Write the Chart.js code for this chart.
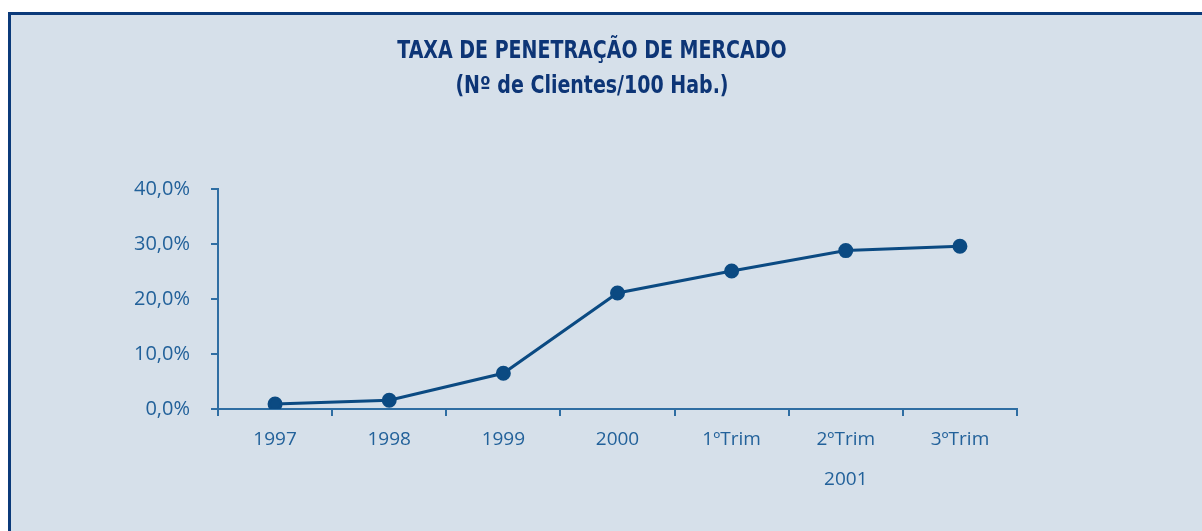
<!DOCTYPE html>
<html>
<head>
<meta charset="utf-8">
<script src="https://cdn.jsdelivr.net/npm/chart.js@4/dist/chart.umd.min.js"></script>
<style>
  html, body { margin: 0; padding: 0; background: #ffffff; }
  #frame {
    position: absolute; left: 8px; top: 12px; right: 0; bottom: 0;
    background: #d6e0ea;
    border-left: 3px solid #0b3a7a;
    border-top: 3px solid #0b3a7a;
  }
  #wrap { position: absolute; left: 0; top: 0; width: 1202px; height: 531px; }
  #title {
    position: absolute; left: 0; top: 33px; width: 1184px;
    text-align: center; color: #0d3576;
    font-family: 'DejaVu Sans Condensed', 'DejaVu Sans', sans-serif;
    font-weight: bold; font-size: 24px; line-height: 35px;
    transform: scaleX(0.88); transform-origin: 592px 0;
  }
</style>
</head>
<body>
<div id="frame"></div>
<div id="wrap"><canvas id="myChart" width="1202" height="531"></canvas></div>
<div id="title">TAXA DE PENETRAÇÃO DE MERCADO<br>(Nº de Clientes/100 Hab.)</div>
<script>
	// categorias e valores (% clientes / 100 hab.)
	var categories = ["1997", "1998", "1999", "2000", "1ºTrim", "2ºTrim", "3ºTrim"];
	var yearRow = ["", "", "", "", "", "2001", ""];
	var penetration = [0.9, 1.6, 6.5, 21.1, 25.1, 28.8, 29.6];
	var yTicks = [0, 10, 20, 30, 40];

	var lineBlue = "#0b4a82";
	var axisBlue = "#2f6ea3";
	var labelBlue = "#22619a";
	var tickFont = { family: "'Open Sans', sans-serif", size: 19 };

	var data = {
	    labels: categories,
	    datasets: [{
	        data: penetration,
	        borderColor: lineBlue,
	        backgroundColor: lineBlue,
	        borderWidth: 3,
	        pointRadius: 6,
	        pointHoverRadius: 6,
	        tension: 0
	    }]
	};

	var ctx = document.getElementById("myChart");

	var myLineChart = new Chart(ctx, {
	    type: 'line',
	    data: data,
	    options: {
	        responsive: false,
	        animation: false,
	        layout: { padding: { left: 100, right: 185, top: 189, bottom: 0 } },
	        plugins: {
	            legend: { display: false },
	            tooltip: { enabled: false },
	            title: { display: false }
	        },
	        scales: {
	            x: {
	                offset: true,
	                grid: { display: true, drawOnChartArea: false, offset: true, drawTicks: true, tickLength: 7, color: axisBlue, lineWidth: 2 },
	                border: { display: true, color: axisBlue, width: 2 },
	                ticks: { color: labelBlue, font: tickFont, padding: 12, maxRotation: 0 },
	                afterFit: function (scale) { scale.height = 50; }
	            },
	            x2: {
	                type: 'category',
	                labels: yearRow,
	                position: 'bottom',
	                offset: true,
	                grid: { display: false, drawTicks: false },
	                border: { display: false },
	                ticks: { color: labelBlue, font: tickFont, padding: 9, maxRotation: 0, autoSkip: false },
	                afterFit: function (scale) { scale.height = 72; }
	            },
	            y: {
	                min: 0,
	                max: 40,
	                grid: { display: true, drawOnChartArea: false, drawTicks: true, tickLength: 7, color: axisBlue, lineWidth: 2 },
	                border: { display: true, color: axisBlue, width: 2 },
	                afterBuildTicks: function (scale) {
	                    scale.ticks = yTicks.map(function (v) { return { value: v }; });
	                },
	                ticks: {
	                    color: labelBlue,
	                    font: { family: "'Open Sans', sans-serif", size: 20 },
	                    padding: 21,
	                    callback: function (v) { return v.toFixed(1).replace('.', ',') + '%'; }
	                },
	                afterFit: function (scale) { scale.width = 118; }
	            }
	        }
	    }
	});
</script>
</body>
</html>
